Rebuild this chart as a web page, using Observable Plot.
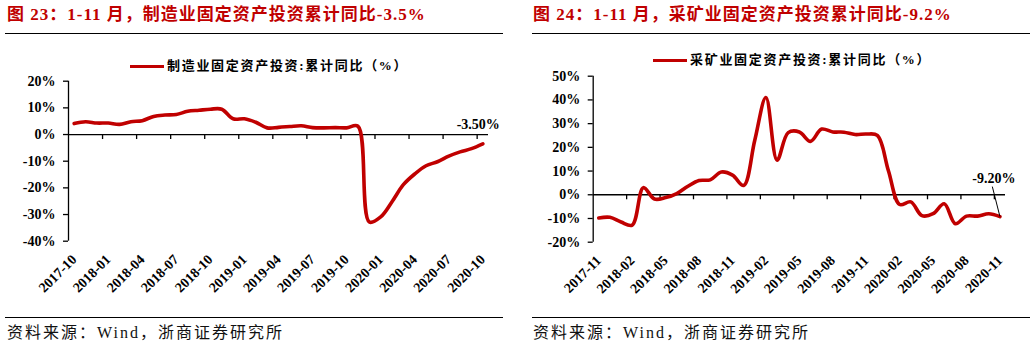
<!DOCTYPE html>
<html><head><meta charset="utf-8">
<script src="https://cdn.jsdelivr.net/npm/d3@7"></script>
<script src="https://cdn.jsdelivr.net/npm/@observablehq/plot@0.6"></script>
<style>
body{margin:0;width:1033px;height:352px;background:#fff;position:relative;overflow:hidden;font-family:"Liberation Serif","Noto Sans CJK SC",serif;}
.title{position:absolute;top:4px;font-size:17px;letter-spacing:1px;font-weight:bold;color:#C00000;white-space:nowrap;line-height:22px;}
.rule{position:absolute;height:0;border-top:1.6px solid #000;}
.src{position:absolute;top:323px;font-size:16px;letter-spacing:2px;white-space:nowrap;color:#111;line-height:20px;}
.legend{position:absolute;display:flex;align-items:center;font-size:13px;font-weight:bold;white-space:nowrap;letter-spacing:1.7px;font-family:"Liberation Serif","Noto Sans CJK SC",sans-serif;line-height:16px;}
.sw{width:34px;height:0;border-top:3.5px solid #C00000;margin-right:3px}
.chart{position:absolute}
</style></head><body>
<div class="title" style="left:7px">图 23：1-11 月，制造业固定资产投资累计同比-3.5%</div>
<div class="title" style="left:533px">图 24：1-11 月，采矿业固定资产投资累计同比-9.2%</div>
<div class="rule" style="left:5px;width:498px;top:33px"></div>
<div class="rule" style="left:532px;width:498px;top:33px"></div>
<div class="legend" style="left:130px;top:58px"><span class="sw"></span><span>制造业固定资产投资:累计同比（%）</span></div>
<div class="legend" style="left:653px;top:52px"><span class="sw"></span><span>采矿业固定资产投资:累计同比（%）</span></div>
<div id="c1" class="chart" style="left:0px;top:70px"></div>
<div id="c2" class="chart" style="left:520px;top:65px"></div>
<div class="rule" style="left:5px;width:498px;top:317px"></div>
<div class="rule" style="left:532px;width:498px;top:317px"></div>
<div class="src" style="left:7px">资料来源：Wind，浙商证券研究所</div>
<div class="src" style="left:533px">资料来源：Wind，浙商证券研究所</div>
<script>
// Left: manufacturing FAI cumulative YoY (%)
const mfgLabels = ["2017-10","2018-01","2018-04","2018-07","2018-10","2019-01","2019-04","2019-07","2019-10","2020-01","2020-04","2020-07","2020-10"];
const mfgValues = [4.1, 4.8, 4.3, 4.3, 3.8, 4.8, 5.2, 6.8, 7.3, 7.5, 8.7, 9.1, 9.5, 9.5, 5.9, 5.9, 4.6, 2.5, 2.7, 3.0, 3.3, 2.6, 2.5, 2.6, 2.5, 3.1, -32.8, -30.9, -25.2, -18.8, -14.8, -11.7, -10.2, -8.1, -6.5, -5.3, -3.5];
const mfgYTicks = [20, 10, 0, -10, -20, -30, -40];

// Right: mining FAI cumulative YoY (%)
const minLabels = ["2017-11","2018-02","2018-05","2018-08","2018-11","2019-02","2019-05","2019-08","2019-11","2020-02","2020-05","2020-08","2020-11"];
const minValues = [-9.8, -9.5, -11.5, -12.8, 3.0, -1.8, -1.2, 0.5, 3.6, 6.0, 6.3, 9.6, 8.3, 3.9, 23, 41, 14.6, 26.2, 26.5, 22.5, 27.7, 26.5, 26.4, 25.4, 25.6, 25.0, 10, -4.1, -3.0, -8.8, -8.0, -3.8, -12.2, -9.0, -9.0, -8.0, -9.2];
const minYTicks = [50, 40, 30, 20, 10, 0, -10, -20];

const RED = "#C00000";

function panel(o) {
  const data = o.values.map((v, i) => ({i, v}));
  const n = data.length;
  const last = data[n - 1];
  const yDomain = [d3.min(o.yTicks), d3.max(o.yTicks)];
  const ppu = (o.height - o.marginTop - o.marginBottom) / (yDomain[1] - yDomain[0]);
  const ppx = (o.width - o.marginLeft - o.marginRight) / n;
  const tickLen = 5 / ppu;
  const boundaries = d3.range(1, o.labels.length).map(k => 3 * k - 0.5);
  const marks = [
    Plot.ruleY([0], {stroke: "#000", strokeWidth: 1.3}),
    Plot.ruleX([-0.5], {stroke: "#000", strokeWidth: 1.3}),
    Plot.ruleX(boundaries, {x: d => d, y1: 0, y2: -tickLen, stroke: "#000", strokeWidth: 1.3}),
    Plot.axisY({ticks: o.yTicks, tickFormat: d => d + "%", tickSize: 5, tickPadding: 8, strokeWidth: 1.3, label: null}),
    Plot.axisX({ticks: d3.range(0, n, 3), tickFormat: i => o.labels[i / 3], tickRotate: -45, tickSize: 0, tickPadding: o.tickPadding, label: null}),
    Plot.line(data, {x: "i", y: "v", stroke: RED, strokeWidth: 3.6, curve: "catmull-rom"}),
    Plot.text([last], {x: "i", y: "v", text: d => d.v.toFixed(2) + "%", textAnchor: o.annAnchor, dx: o.annDx, dy: o.annDy, fontWeight: "bold"})
  ];
  if (o.leader) {
    marks.push(Plot.link([last], {x1: "i", y1: "v", x2: d => d.i - o.leader[0] / ppx, y2: d => d.v + o.leader[1] / ppu, stroke: "#000", strokeWidth: 1}));
  }
  return Plot.plot({
    width: o.width, height: o.height,
    marginLeft: o.marginLeft, marginRight: o.marginRight, marginTop: o.marginTop, marginBottom: o.marginBottom,
    x: {domain: [-0.5, n - 0.5]},
    y: {domain: yDomain},
    style: {fontFamily: "Liberation Serif, serif", fontSize: "14px", fontWeight: "bold", color: "#000", background: "transparent", overflow: "visible"},
    marks
  });
}

document.getElementById("c1").append(panel({
  values: mfgValues, labels: mfgLabels, yTicks: mfgYTicks,
  width: 510, height: 245, marginLeft: 68, marginRight: 22, marginTop: 10.7, marginBottom: 74.3,
  tickPadding: 16, annAnchor: "end", annDx: 17, annDy: -19
}));
document.getElementById("c2").append(panel({
  values: minValues, labels: minLabels, yTicks: minYTicks,
  width: 513, height: 250, marginLeft: 72.7, marginRight: 28, marginTop: 10.7, marginBottom: 73.3,
  tickPadding: 16, annAnchor: "middle", annDx: -6, annDy: -38, leader: [7.6, 30]
}));
</script>
</body></html>
